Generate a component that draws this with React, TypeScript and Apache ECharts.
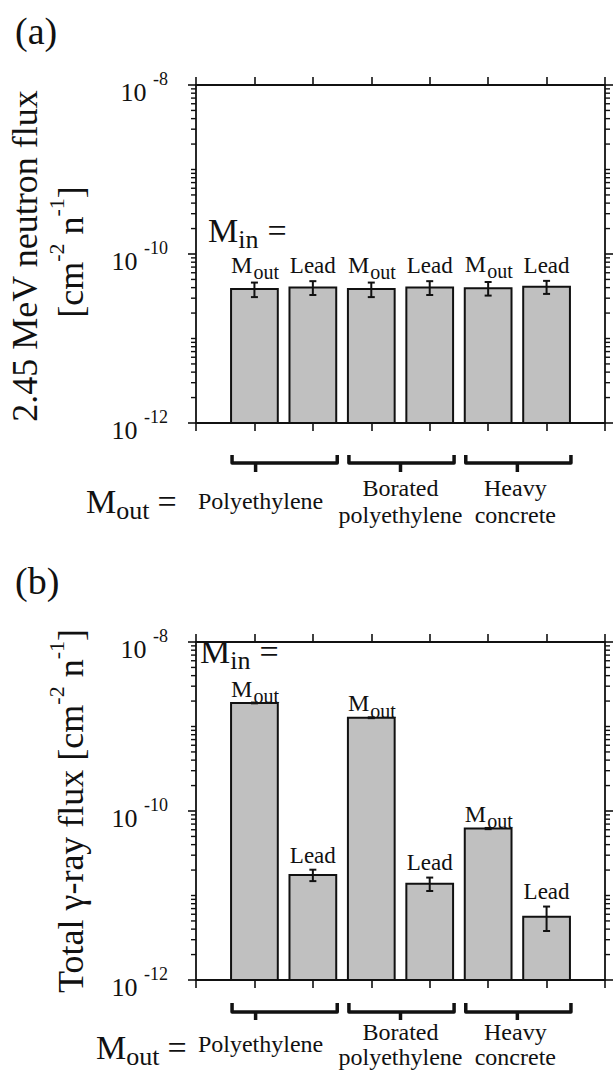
import React, { useEffect, useRef } from "react";
import * as echarts from "echarts";

// ---------------- data ----------------
const barPositions = [1, 2, 3, 4, 5, 6];
const barLabels = ["Mout", "Lead", "Mout", "Lead", "Mout", "Lead"];
const neutronFlux = [3.84e-11, 4.02e-11, 3.84e-11, 4.02e-11, 3.94e-11, 4.09e-11];
const neutronError = [0.75e-11, 0.75e-11, 0.75e-11, 0.75e-11, 0.72e-11, 0.72e-11];
const gammaFlux = [1.9e-9, 1.75e-11, 1.27e-9, 1.38e-11, 6.2e-11, 5.6e-12];
const gammaError = [0.02e-9, 0.27e-11, 0.015e-9, 0.25e-11, 0.1e-11, 1.8e-12];
const groupNames = ["Polyethylene", "Borated\npolyethylene", "Heavy\nconcrete"];
const groupFirstBar = [1, 3, 5];
const groupLastBar = [2, 4, 6];
const yLabelExponents = [-12, -10, -8];
const minorDecades = [-12, -11, -10, -9];
const minorMultipliers = [1, 2, 3, 4, 5, 6, 7, 8, 9];

// ---------------- layout / style ----------------
const FF = "Liberation Serif, Times New Roman, serif";
const INK = "#111";
const Y_MIN = 1e-12;
const Y_MAX = 1e-8;
const X_MIN = 0;
const X_MAX = 7;
const BAR_HALF = 0.4;
const BRACE_TICK_SHIFT = [-0.48, 0, 0];
const BRACE_TEXT_SHIFT = [5, 0, -2];

const minorTickValues: number[] = [];
minorDecades.forEach((d) =>
  minorMultipliers.forEach((m) => {
    const v = m * Math.pow(10, d);
    if (!(m === 1 && yLabelExponents.includes(d))) minorTickValues.push(v);
  })
);

function barRenderer(labelGap: { m: number; out: number; lead: number }) {
  return (params: any, api: any) => {
    const x = api.value(0);
    const v = api.value(1);
    const e = api.value(2);
    const [xl, yt] = api.coord([x - BAR_HALF, v]);
    const xr = api.coord([x + BAR_HALF, v])[0];
    const cx = api.coord([x, v])[0];
    const yb = api.coord([x, Y_MIN])[1];
    const yeTop = api.coord([x, v + e])[1];
    const yeBot = api.coord([x, v - e])[1];
    const cap = 3.5;
    const top = Math.min(yt, yeTop);
    const children: any[] = [
      {
        type: "rect",
        shape: { x: xl, y: yt, width: xr - xl, height: yb - yt },
        style: { fill: "#c0c0c0", stroke: INK, lineWidth: 2 },
      },
      { type: "line", shape: { x1: cx, y1: yeTop, x2: cx, y2: yeBot }, style: { stroke: INK, lineWidth: 2 } },
      { type: "line", shape: { x1: cx - cap, y1: yeTop, x2: cx + cap, y2: yeTop }, style: { stroke: INK, lineWidth: 2 } },
      { type: "line", shape: { x1: cx - cap, y1: yeBot, x2: cx + cap, y2: yeBot }, style: { stroke: INK, lineWidth: 2 } },
    ];
    const lab = barLabels[params.dataIndex];
    if (lab === "Mout") {
      children.push({
        type: "text",
        style: {
          text: "M", x: cx - 2, y: top + labelGap.m - 0.33 * 24,
          fontSize: 24, fontFamily: FF, fill: INK,
          align: "right", textAlign: "right", verticalAlign: "middle", textVerticalAlign: "middle",
        },
      });
      children.push({
        type: "text",
        style: {
          text: "out", x: cx - 1, y: top + labelGap.out - 0.33 * 20,
          fontSize: 20, fontFamily: FF, fill: INK,
          align: "left", textAlign: "left", verticalAlign: "middle", textVerticalAlign: "middle",
        },
      });
    } else {
      children.push({
        type: "text",
        style: {
          text: lab, x: cx, y: top + labelGap.lead - 0.33 * 23,
          fontSize: 23, fontFamily: FF, fill: INK,
          align: "center", textAlign: "center", verticalAlign: "middle", textVerticalAlign: "middle",
        },
      });
    }
    return { type: "group", children };
  };
}

function minorTickRenderer(params: any, api: any) {
  const v = api.value(1);
  const [xl, y] = api.coord([X_MIN, v]);
  const xr = api.coord([X_MAX, v])[0];
  return {
    type: "group",
    children: [
      { type: "line", shape: { x1: xl - 5, y1: y, x2: xl, y2: y }, style: { stroke: INK, lineWidth: 1.4 } },
      { type: "line", shape: { x1: xr, y1: y, x2: xr + 5, y2: y }, style: { stroke: INK, lineWidth: 1.4 } },
    ],
  };
}

function braceRenderer(off: { ends: number; line: number; tick: number; text: number; lh: number }) {
  return (params: any, api: any) => {
    const i = params.dataIndex;
    const first = api.value(0);
    const last = api.value(2);
    const yAxisPx = api.coord([first, Y_MIN])[1];
    const xl = api.coord([first - BAR_HALF, Y_MIN])[0] + 1;
    const xr = api.coord([last + BAR_HALF, Y_MIN])[0] + 1;
    const xt = api.coord([(first + last) / 2 + BRACE_TICK_SHIFT[i], Y_MIN])[0];
    const y0 = yAxisPx + off.ends;
    const y1 = yAxisPx + off.line;
    const y2 = yAxisPx + off.tick;
    return {
      type: "group",
      children: [
        {
          type: "polyline",
          shape: { points: [[xl, y0], [xl, y1], [xr, y1], [xr, y0]] },
          style: { stroke: INK, lineWidth: 3.5, fill: "none", lineJoin: "round" },
        },
        { type: "line", shape: { x1: xt, y1: y1, x2: xt, y2: y2 }, style: { stroke: INK, lineWidth: 3.5 } },
        {
          type: "text",
          style: {
            text: groupNames[i], x: xt + BRACE_TEXT_SHIFT[i], y: yAxisPx + off.text,
            fontSize: 24, fontFamily: FF, fill: INK, lineHeight: off.lh,
            align: "center", textAlign: "center", verticalAlign: "middle", textVerticalAlign: "middle",
          },
        },
      ],
    };
  };
}

function mkX(gridIndex: number, position: string) {
  return {
    type: "value", gridIndex, position, min: X_MIN, max: X_MAX, interval: 1,
    axisLine: { show: true, onZero: false, lineStyle: { color: INK, width: 1.8 } },
    axisTick: { show: true, inside: false, length: 8, lineStyle: { color: INK, width: 1.6 } },
    axisLabel: { show: false },
    splitLine: { show: false },
  };
}

function mkY(gridIndex: number, position: string, labels: boolean) {
  return {
    type: "log", logBase: 10, gridIndex, position, min: Y_MIN, max: Y_MAX, interval: 2, splitNumber: 2,
    axisLine: { show: true, onZero: false, lineStyle: { color: INK, width: 1.8 } },
    axisTick: { show: true, inside: false, length: 8, lineStyle: { color: INK, width: 1.6 } },
    splitLine: { show: false },
    minorTick: { show: false },
    axisLabel: {
      show: labels,
      margin: 28,
      formatter: (v: number) => {
        const ex = Math.round(Math.log10(v));
        if (!yLabelExponents.includes(ex)) return "";
        return `{b|10 }{s|${ex}}`;
      },
      rich: {
        b: { fontSize: 26, fontFamily: FF, color: INK, padding: [14, 0, 0, 0] },
        s: { fontSize: 18, fontFamily: FF, color: INK, padding: [0, 0, 13, 0] },
      },
    },
  };
}

function txt(x: number, y: number, text: string, size: number, extra: any = {}) {
  return {
    type: "text", x, y, rotation: extra.rotation || 0,
    style: {
      text, fontSize: size, fontFamily: FF, fill: INK,
      align: extra.align || "left", textAlign: extra.align || "left",
      verticalAlign: "middle", textVerticalAlign: "middle",
      rich: extra.rich,
    },
  };
}

// "M_sub =" built from separate texts, placed by baseline
function mSubEq(x: number, baseline: number, sub: string, subWidthEm: number, eqGap: number) {
  const mSize = 34;
  const sSize = 26;
  const mW = 0.889 * mSize;
  const sW = subWidthEm * sSize;
  return {
    type: "group",
    children: [
      txt(x, baseline - 0.33 * mSize, "M", mSize),
      txt(x + mW, baseline + 6 - 0.33 * sSize, sub, sSize),
      txt(x + mW + sW + eqGap, baseline - 0.33 * mSize, "=", mSize),
    ],
  };
}

const supRich = {
  n: { fontSize: 36, fontFamily: FF, fill: INK, color: INK },
  s: { fontSize: 22, fontFamily: FF, fill: INK, color: INK, padding: [0, 0, 30, 0] },
};

export default function App() {
  const ref = useRef<HTMLDivElement>(null);
  useEffect(() => {
    if (!ref.current) return;
    const chart = echarts.init(ref.current, undefined, { renderer: "svg" });
    const option: any = {
      animation: false,
      backgroundColor: "#ffffff",
      textStyle: { fontFamily: FF },
      grid: [
        { left: 196, top: 85, width: 409, height: 338 },
        { left: 196, top: 642, width: 409, height: 338 },
      ],
      xAxis: [mkX(0, "bottom"), mkX(0, "top"), mkX(1, "bottom"), mkX(1, "top")],
      yAxis: [mkY(0, "left", true), mkY(0, "right", false), mkY(1, "left", true), mkY(1, "right", false)],
      series: [
        {
          type: "custom", xAxisIndex: 0, yAxisIndex: 0, z: 5,
          data: barPositions.map((p, i) => [p, neutronFlux[i], neutronError[i]]),
          renderItem: barRenderer({ m: -10, out: -4, lead: -8 }),
        },
        {
          type: "custom", xAxisIndex: 2, yAxisIndex: 2, z: 5,
          data: barPositions.map((p, i) => [p, gammaFlux[i], gammaError[i]]),
          renderItem: barRenderer({ m: -6, out: 0, lead: -7 }),
        },
        { type: "custom", xAxisIndex: 0, yAxisIndex: 0, data: minorTickValues.map((v) => [0, v]), renderItem: minorTickRenderer },
        { type: "custom", xAxisIndex: 2, yAxisIndex: 2, data: minorTickValues.map((v) => [0, v]), renderItem: minorTickRenderer },
        {
          type: "custom", xAxisIndex: 0, yAxisIndex: 0,
          data: groupFirstBar.map((f, i) => [f, Y_MIN, groupLastBar[i]]),
          renderItem: braceRenderer({ ends: 32, line: 40, tick: 49, text: 78, lh: 27 }),
        },
        {
          type: "custom", xAxisIndex: 2, yAxisIndex: 2,
          data: groupFirstBar.map((f, i) => [f, Y_MIN, groupLastBar[i]]),
          renderItem: braceRenderer({ ends: 23, line: 32, tick: 40, text: 64, lh: 25 }),
        },
      ],
      graphic: [
        txt(15, 31, "(a)", 38),
        txt(15, 581, "(b)", 38),
        txt(25, 256, "2.45 MeV neutron flux", 36, { rotation: Math.PI / 2, align: "center" }),
        txt(71, 252, "{n|[cm}{s|-2}{n| n}{s|-1}{n|]}", 36, { rotation: Math.PI / 2, align: "center", rich: supRich }),
        txt(71, 811, "{n|Total γ-ray flux [cm}{s|-2}{n| n}{s|-1}{n|]}", 36, { rotation: Math.PI / 2, align: "center", rich: supRich }),
        mSubEq(208, 242, "in", 0.778, 9),
        mSubEq(200, 663, "in", 0.778, 9),
        mSubEq(86, 513, "out", 1.278, 8),
        mSubEq(96, 1059, "out", 1.278, 8),
      ],
    };
    chart.setOption(option);
    return () => chart.dispose();
  }, []);
  return (
    <div
      ref={ref}
      style={{ position: "fixed", left: 0, top: 0, width: 613, height: 1074, background: "#fff" }}
    />
  );
}
